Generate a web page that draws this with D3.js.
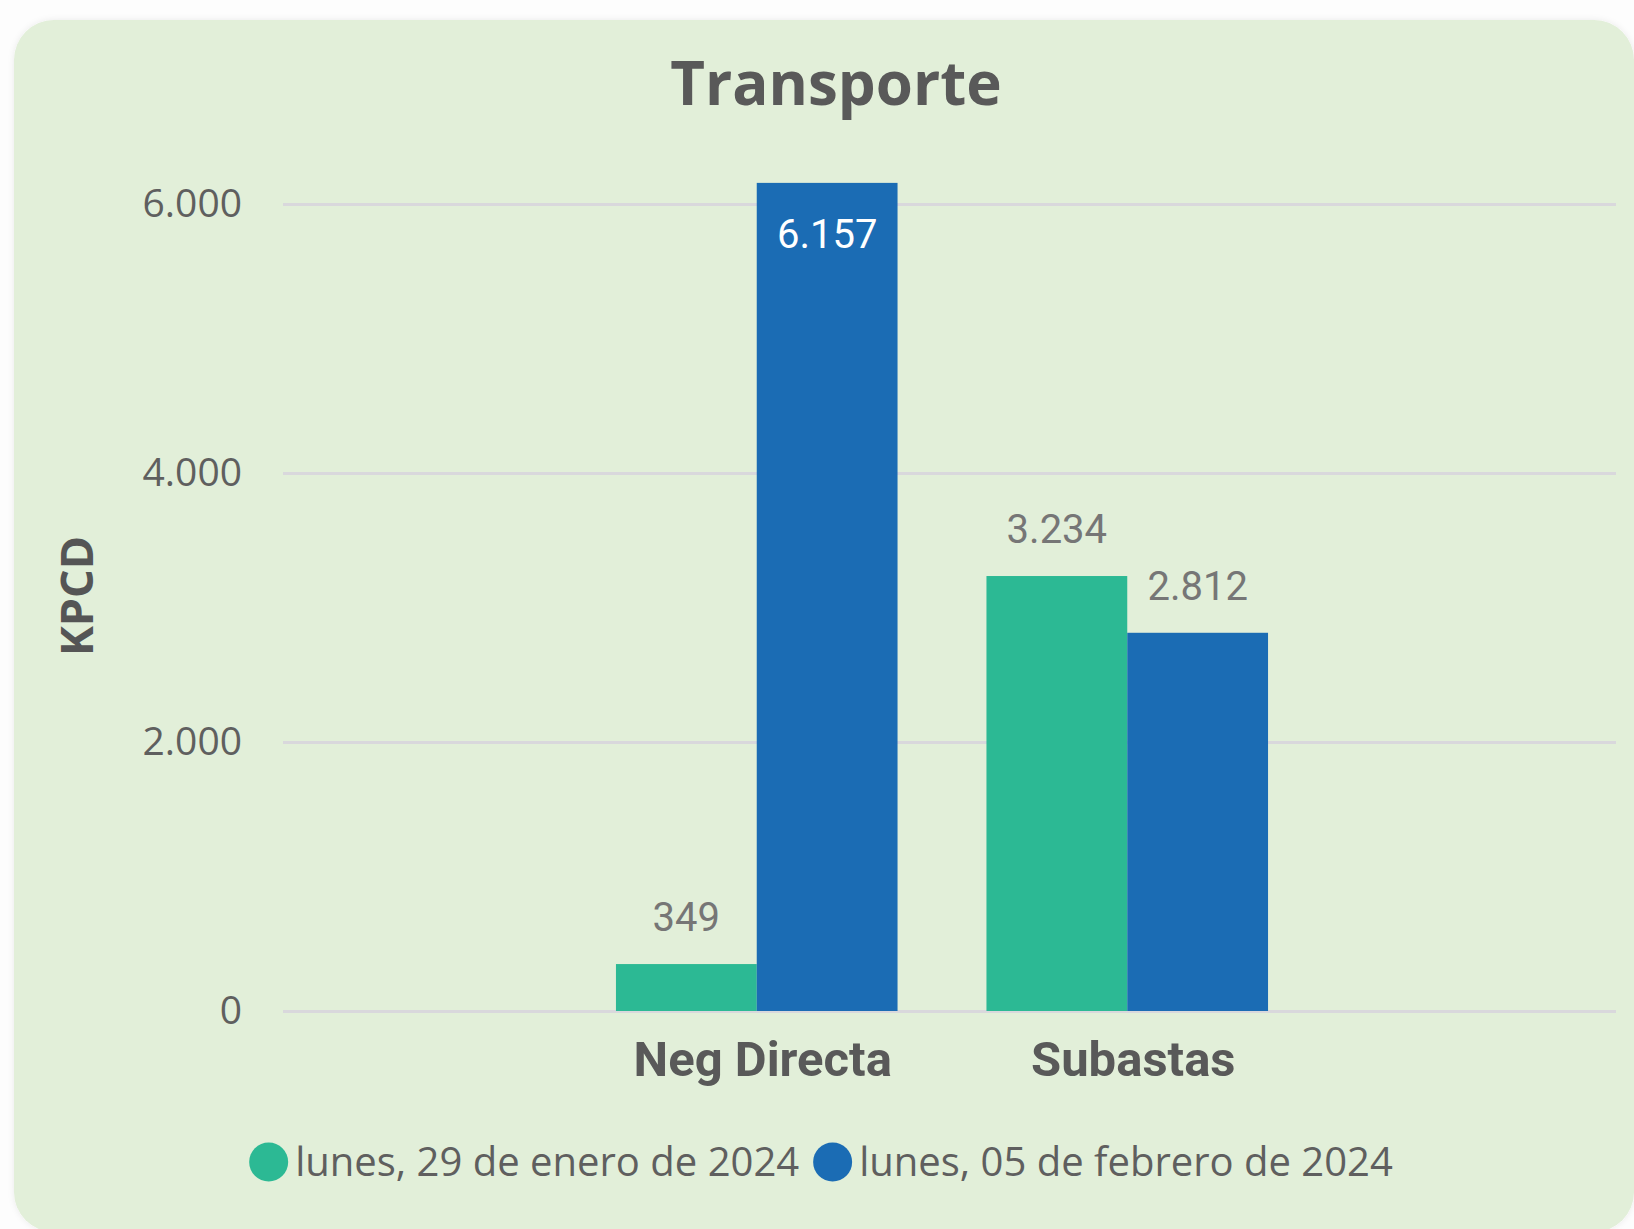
<!DOCTYPE html>
<html>
<head>
<meta charset="utf-8">
<script src="https://cdn.jsdelivr.net/npm/d3@7"></script>
<style>
  html, body { margin: 0; padding: 0; background: #fdfdfd; }
  svg { display: block; }
  .tick line { stroke: #d9d8dc; stroke-width: 3; }
</style>
</head>
<body>
<div id="main"></div>
<script>
const categories = ['Neg Directa', 'Subastas']
const seriesNames = ['lunes, 29 de enero de 2024', 'lunes, 05 de febrero de 2024']
const seriesColors = ['#2cb994', '#1b6cb4']
const ene29 = [349, 3234]
const feb05 = [6157, 2812]
const yTicks = [0, 2000, 4000, 6000]

const W = 1634
const H = 1229

const locale = d3.formatLocale({ decimal: ',', thousands: '.', grouping: [3], currency: ['$', ''] })
const fmt = locale.format(',.0f')

const svg = d3.select('#main').append('svg')
  .attr('width', W)
  .attr('height', H)

const defs = svg.append('defs')
const shadow = defs.append('filter').attr('id', 'shadow').attr('x', '-5%').attr('y', '-5%').attr('width', '110%').attr('height', '110%')
shadow.append('feDropShadow').attr('dx', 0).attr('dy', 0).attr('stdDeviation', 3).attr('flood-color', '#000').attr('flood-opacity', 0.08)

// tarjeta
svg.append('rect')
  .attr('x', 14)
  .attr('y', 20)
  .attr('width', 1620)
  .attr('height', 1212)
  .attr('rx', 40)
  .attr('fill', '#e2efd9')
  .attr('filter', 'url(#shadow)')

svg.append('text')
  .attr('x', 836)
  .attr('y', 105)
  .attr('text-anchor', 'middle')
  .attr('font-family', '"Open Sans", sans-serif')
  .attr('font-weight', 700)
  .attr('font-size', 60)
  .attr('fill', '#595959')
  .text('Transporte')

const plot = { left: 283, right: 1616, top: 204, bottom: 1011 }

const y = d3.scaleLinear()
  .domain([0, 6000])
  .range([plot.bottom, plot.top])

const x0 = d3.scaleBand()
  .domain(categories)
  .range([571.5, 1312.5])
  .paddingInner(0.24)
  .paddingOuter(0.12)

const x1 = d3.scaleBand()
  .domain(d3.range(seriesNames.length))
  .range([0, x0.bandwidth()])

const yAxis = d3.axisLeft(y)
  .tickValues(yTicks)
  .tickFormat(fmt)
  .tickSizeInner(-(plot.right - plot.left))
  .tickSizeOuter(0)
  .tickPadding(41)

const gy = svg.append('g')
  .attr('transform', `translate(${plot.left}, 0)`)
  .call(yAxis)
gy.select('.domain').remove()
gy.selectAll('.tick text')
  .attr('font-family', '"Open Sans", sans-serif')
  .attr('font-size', 39)
  .attr('fill', '#5f5f5f')

svg.append('text')
  .attr('transform', 'translate(75, 596) rotate(-90)')
  .attr('text-anchor', 'middle')
  .attr('dominant-baseline', 'central')
  .attr('font-family', '"Open Sans", sans-serif')
  .attr('font-weight', 700)
  .attr('font-size', 45)
  .attr('fill', '#555555')
  .text('KPCD')

const rows = categories.map((c, i) => ({ cat: c, values: [ene29[i], feb05[i]] }))

const groups = svg.append('g').selectAll('g')
  .data(rows)
  .enter()
  .append('g')
  .attr('transform', d => `translate(${x0(d.cat)}, 0)`)

groups.selectAll('rect')
  .data(d => d.values.map((v, s) => ({ v, s })))
  .enter()
  .append('rect')
  .attr('x', d => x1(d.s))
  .attr('y', d => y(d.v))
  .attr('width', x1.bandwidth())
  .attr('height', d => y(0) - y(d.v))
  .attr('fill', d => seriesColors[d.s])

// etiquetas de datos: dentro de la barra si pasa el máximo del eje
groups.selectAll('text')
  .data(d => d.values.map((v, s) => ({ v, s })))
  .enter()
  .append('text')
  .attr('x', d => x1(d.s) + x1.bandwidth() / 2)
  .attr('y', d => d.v > y.domain()[1] ? y(d.v) + 65 : y(d.v) - 33)
  .attr('text-anchor', 'middle')
  .attr('font-family', 'Roboto, sans-serif')
  .attr('font-size', 40)
  .attr('fill', d => d.v > y.domain()[1] ? '#ffffff' : '#767676')
  .text(d => fmt(d.v))

const xAxis = d3.axisBottom(x0)
  .tickSize(0)
  .tickPadding(30)

const gx = svg.append('g')
  .attr('transform', `translate(0, ${plot.bottom})`)
  .call(xAxis)
gx.select('.domain').remove()
gx.selectAll('.tick text')
  .attr('dx', 6)
  .attr('font-family', 'Roboto, sans-serif')
  .attr('font-weight', 700)
  .attr('font-size', 49)
  .attr('fill', '#595959')

// leyenda
const legend = svg.append('g')
const r = 19.5
let cursor = 0
seriesNames.forEach((name, i) => {
  const item = legend.append('g').attr('transform', `translate(${cursor}, 0)`)
  item.append('circle')
    .attr('cx', r)
    .attr('cy', 0)
    .attr('r', r)
    .attr('fill', seriesColors[i])
  const t = item.append('text')
    .attr('x', 2 * r + 7)
    .attr('y', 0)
    .attr('dy', '0.36em')
    .attr('font-family', '"Open Sans", sans-serif')
    .attr('font-size', 40)
    .attr('fill', '#5f5f5f')
    .text(name)
  cursor += 2 * r + 7 + t.node().getComputedTextLength() + (i < seriesNames.length - 1 ? 14 : 0)
})
legend.attr('transform', `translate(${821 - cursor / 2}, 1162)`)
</script>
</body>
</html>
